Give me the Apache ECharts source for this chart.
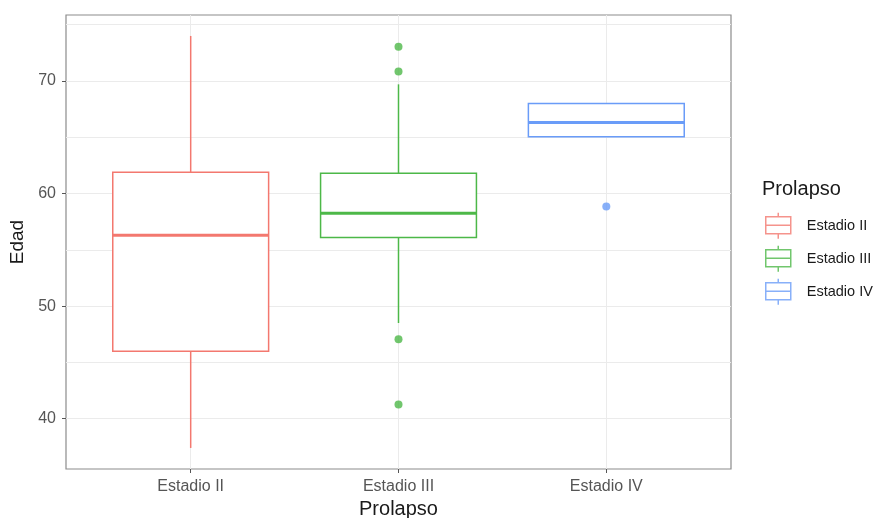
<!DOCTYPE html>
<html><head><meta charset="utf-8">
<script src="https://cdn.jsdelivr.net/npm/echarts@6/dist/echarts.min.js"></script>
<style>html,body{margin:0;padding:0;background:#fff}#c{width:886px;height:518px}</style>
</head><body><div id="c"></div>
<script>
const categories = ['Estadio II', 'Estadio III', 'Estadio IV'];
const colors = ['#F3786F', '#4DB848', '#6A9CF8'];
const whiskerLow = [37.4, 48.5, 65.05];
const q1 = [46.0, 56.1, 65.05];
const median = [56.3, 58.25, 66.3];
const q3 = [61.9, 61.8, 68.0];
const whiskerHigh = [74.0, 69.7, 68.0];
const outlierGroup = [1, 1, 1, 1, 2];
const outlierValue = [73.05, 70.85, 47.05, 41.25, 58.85];
const yMajorTicks = [40, 50, 60, 70];
const yGridTicks = [40, 45, 50, 55, 60, 65, 70, 75];
const xTicks = [1, 2, 3];
const yRange = [35.53, 75.86];
const xRange = [0.4, 3.6];

const FONT = 'Liberation Sans, Arial, Helvetica, sans-serif';
const chart = echarts.init(document.getElementById('c'), null, {renderer: 'canvas'});
const BOX_FRAC = 0.75;
const legendIcon = 'path://M13.5,0V4M1,4H26V21H1ZM1,12.5H26M13.5,21V26';

function renderBox(params, api) {
  const i = params.dataIndex;
  const x = api.value(0);
  const lo = api.coord([x, api.value(1)]);
  const b1 = api.coord([x, api.value(2)]);
  const md = api.coord([x, api.value(3)]);
  const b3 = api.coord([x, api.value(4)]);
  const hi = api.coord([x, api.value(5)]);
  const w = api.size([BOX_FRAC, 0])[0];
  const cx = lo[0];
  const c = colors[i];
  const ls = {stroke: c, lineWidth: 1.5, fill: null};
  return {
    type: 'group',
    children: [
      {type: 'line', shape: {x1: cx, y1: hi[1], x2: cx, y2: b3[1]}, style: ls},
      {type: 'line', shape: {x1: cx, y1: b1[1], x2: cx, y2: lo[1]}, style: ls},
      {type: 'rect', shape: {x: cx - w / 2, y: b3[1], width: w, height: b1[1] - b3[1]},
        style: {stroke: c, lineWidth: 1.5, fill: '#fff'}},
      {type: 'line', shape: {x1: cx - w / 2, y1: md[1], x2: cx + w / 2, y2: md[1]},
        style: {stroke: c, lineWidth: 3}}
    ]
  };
}

const option = {
  animation: false,
  textStyle: {fontFamily: FONT},
  title: {text: 'Prolapso', left: 762, top: 179, padding: 0,
    textStyle: {fontSize: 20, fontWeight: 'normal', color: '#1a1a1a', fontFamily: FONT}},
  legend: {
    left: 765, top: 212, padding: 0, orient: 'vertical', itemWidth: 27, itemHeight: 26, itemGap: 5.5,
    icon: legendIcon, selectedMode: false,
    textStyle: {fontSize: 14.5, color: '#1a1a1a', padding: [0, 0, 0, 10], fontFamily: FONT},
    data: categories.map((c, i) => ({name: c, itemStyle: {color: '#fff', borderColor: colors[i], borderWidth: 1.5}}))
  },
  grid: {left: 66, right: 155, top: 15, bottom: 49, show: true, borderColor: '#8c8c8c', borderWidth: 1.2,
    backgroundColor: 'transparent', outerBoundsMode: 'none', containLabel: false},
  xAxis: {
    type: 'value', min: xRange[0], max: xRange[1],
    axisLine: {show: false},
    axisTick: {show: true, customValues: xTicks, length: 4, lineStyle: {color: '#555'}},
    axisLabel: {customValues: xTicks, formatter: v => categories[Math.round(v) - 1], color: '#555', fontSize: 16, margin: 10, fontFamily: FONT},
    splitLine: {show: true, lineStyle: {color: '#ebebeb', width: 1}},
    name: 'Prolapso', nameLocation: 'middle', nameGap: 30,
    nameTextStyle: {fontSize: 20, color: '#1a1a1a', fontFamily: FONT}
  },
  yAxis: [{
    type: 'value', min: yRange[0], max: yRange[1], splitNumber: 8,
    axisLine: {show: false},
    axisTick: {show: false, customValues: yGridTicks},
    axisLabel: {customValues: yMajorTicks, color: '#555', fontSize: 16, margin: 10, fontFamily: FONT},
    splitLine: {show: true, lineStyle: {color: '#ebebeb', width: 1}},
    name: 'Edad', nameLocation: 'middle', nameGap: 34, nameRotate: 90,
    nameTextStyle: {fontSize: 19, color: '#1a1a1a', fontFamily: FONT}
  }, {
    type: 'value', min: yRange[0], max: yRange[1], position: 'left',
    axisLine: {show: false},
    axisTick: {show: true, customValues: yMajorTicks, length: 4, lineStyle: {color: '#555'}},
    axisLabel: {show: false}, splitLine: {show: false}
  }],
  series: [
    {
      type: 'custom', xAxisIndex: 0, yAxisIndex: 0, z: 3, silent: true,
      renderItem: renderBox,
      encode: {x: 0, y: [1, 2, 3, 4, 5]},
      data: categories.map((c, i) => [xTicks[i], whiskerLow[i], q1[i], median[i], q3[i], whiskerHigh[i]])
    },
    {
      type: 'scatter', xAxisIndex: 0, yAxisIndex: 0, z: 5, silent: true, symbolSize: 8,
      data: outlierGroup.map((g, k) => ({value: [xTicks[g], outlierValue[k]], itemStyle: {color: colors[g]}}))
    },
    ...categories.map((c, i) => ({type: 'scatter', name: c, data: [], itemStyle: {color: colors[i], borderColor: colors[i]}}))
  ]
};
chart.setOption(option);
</script></body></html>
